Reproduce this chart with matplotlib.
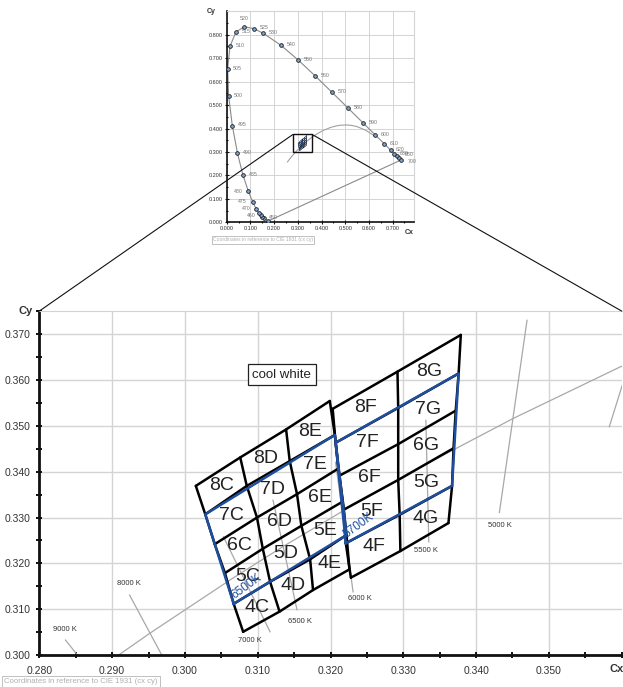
import numpy as np
import matplotlib
matplotlib.use("Agg")
import matplotlib.pyplot as plt
from matplotlib.patches import ConnectionPatch, Rectangle
from matplotlib.ticker import MultipleLocator, FormatStrFormatter

plt.rcParams['font.family'] = ['Liberation Sans', 'DejaVu Sans']

# --- CIE 1931 spectral locus (wavelength in nm, x, y)
wavelengths = [380, 450, 455, 460, 465, 470, 475, 480, 485, 490, 495, 500, 505, 510,
               515, 520, 525, 530, 540, 550, 560, 570, 580, 590, 600, 610, 620, 630,
               640, 650, 700]
locus_x = [0.1741, 0.1566, 0.1510, 0.1440, 0.1355, 0.1241, 0.1096, 0.0913, 0.0687,
           0.0454, 0.0235, 0.0082, 0.0039, 0.0139, 0.0389, 0.0743, 0.1142, 0.1547,
           0.2296, 0.3016, 0.3731, 0.4441, 0.5125, 0.5752, 0.6270, 0.6658, 0.6915,
           0.7079, 0.7190, 0.7260, 0.7347]
locus_y = [0.0050, 0.0177, 0.0227, 0.0297, 0.0399, 0.0578, 0.0868, 0.1327, 0.2007,
           0.2950, 0.4127, 0.5384, 0.6548, 0.7502, 0.8120, 0.8338, 0.8262, 0.8059,
           0.7543, 0.6923, 0.6245, 0.5547, 0.4866, 0.4242, 0.3725, 0.3340, 0.3083,
           0.2920, 0.2809, 0.2740, 0.2653]
left_labels = [460, 470, 475, 480]
top_labels = [520]
hidden_labels = [380, 455, 465, 640]

# --- Planckian locus (20000 K ... 1200 K)
planck_x = [0.2565, 0.2637, 0.2719, 0.2807, 0.2869, 0.2952, 0.3064, 0.3135, 0.3221,
            0.3325, 0.3451, 0.3608, 0.3805, 0.4053, 0.4369, 0.4599, 0.4770, 0.5056,
            0.5267, 0.5487, 0.5857, 0.6251]
planck_y = [0.2577, 0.2674, 0.2779, 0.2884, 0.2956, 0.3048, 0.3166, 0.3237, 0.3318,
            0.3411, 0.3516, 0.3636, 0.3768, 0.3907, 0.4041, 0.4106, 0.4137, 0.4152,
            0.4133, 0.4086, 0.3931, 0.3674]

# --- isotherm segments (x0, y0, x1, y1) and their labels
iso_names = ['9000 K', '8000 K', '7000 K', '6500 K', '6000 K', '5500 K', '5000 K', '']
iso_x0 = [0.2836, 0.2924, 0.3053, 0.3121, 0.3207, 0.3331, 0.3470, 0.3606]
iso_y0 = [0.3033, 0.3131, 0.3258, 0.3338, 0.3420, 0.3512, 0.3730, 0.3615]
iso_x1 = [0.2855, 0.2970, 0.3117, 0.3154, 0.3231, 0.3335, 0.3432, 0.3583]
iso_y1 = [0.2995, 0.2995, 0.3051, 0.3099, 0.3138, 0.3247, 0.3311, 0.3498]
iso_lx = [0.2835, 0.2923, 0.3089, 0.3158, 0.3240, 0.3331, 0.3433, 0]
iso_ly = [0.3057, 0.3157, 0.3033, 0.3073, 0.3123, 0.3229, 0.3282, 0]

# --- bin corners, rows bottom->top (4 low, 4/5, 5/6, 6/7, 7/8, 8 top)
# 6500K group, columns C-left, C/D, D/E, E-right
grpA_cols = ['C', 'D', 'E']
grpA_x = [[0.3080, 0.3130, 0.3176, 0.3226],
          [0.3067, 0.3117, 0.3172, 0.3222],
          [0.3055, 0.3107, 0.3160, 0.3217],
          [0.3041, 0.3099, 0.3154, 0.3211],
          [0.3028, 0.3085, 0.3144, 0.3206],
          [0.3015, 0.3076, 0.3139, 0.3199]]
grpA_y = [[0.3051, 0.3095, 0.3142, 0.3187],
          [0.3112, 0.3160, 0.3209, 0.3262],
          [0.3179, 0.3232, 0.3282, 0.3335],
          [0.3242, 0.3300, 0.3351, 0.3407],
          [0.3307, 0.3369, 0.3423, 0.3480],
          [0.3369, 0.3431, 0.3492, 0.3554]]
# 5700K group, columns F-left, F/G, G-right
grpB_cols = ['F', 'G']
grpB_x = [[0.3228, 0.3296, 0.3362],
          [0.3221, 0.3295, 0.3367],
          [0.3218, 0.3293, 0.3369],
          [0.3212, 0.3293, 0.3372],
          [0.3207, 0.3293, 0.3376],
          [0.3203, 0.3292, 0.3379]]
grpB_y = [[0.3169, 0.3227, 0.3288],
          [0.3244, 0.3306, 0.3369],
          [0.3317, 0.3382, 0.3451],
          [0.3391, 0.3460, 0.3533],
          [0.3463, 0.3539, 0.3614],
          [0.3537, 0.3618, 0.3698]]
row_names = ['4', '5', '6', '7', '8']

BLUE = '#1f4e9c'
GRID = '#d4d4d4'
TXT = '#333333'

fig = plt.figure(figsize=(6.23, 6.87), dpi=100)
ax = fig.add_axes([0.0631, 0.0463, 0.9348, 0.5009])
ins = fig.add_axes([0.3639, 0.6764, 0.3005, 0.3072])


def draw_group(a, gx, gy, cols, lw, labels=True):
    gx = np.array(gx)
    gy = np.array(gy)
    for r in range(gx.shape[0]):
        a.plot(gx[r], gy[r], color='k', lw=lw, zorder=3, solid_capstyle='round')
    for c in range(gx.shape[1]):
        a.plot(gx[:, c], gy[:, c], color='k', lw=lw, zorder=3, solid_capstyle='round')
    # ANSI quadrangle = rows 5..7
    qx = [gx[1, 0], gx[4, 0], gx[4, -1], gx[1, -1], gx[1, 0]]
    qy = [gy[1, 0], gy[4, 0], gy[4, -1], gy[1, -1], gy[1, 0]]
    a.plot(qx, qy, color=BLUE, lw=lw, zorder=4)
    if labels:
        for r in range(gx.shape[0] - 1):
            for c in range(gx.shape[1] - 1):
                cx = (gx[r, c] + gx[r, c + 1] + gx[r + 1, c] + gx[r + 1, c + 1]) / 4
                cy = (gy[r, c] + gy[r, c + 1] + gy[r + 1, c] + gy[r + 1, c + 1]) / 4
                a.text(cx, cy, row_names[r] + cols[c], ha='center', va='center',
                       fontsize=14, color='#222222', zorder=5)
    return gx, gy


# ---------------- main (zoomed) chart ----------------
ax.set_xlim(0.28, 0.36)
ax.set_ylim(0.30, 0.375)
ax.set_xticks(np.arange(0.28, 0.3501, 0.01))
ax.set_yticks(np.arange(0.30, 0.3701, 0.01))
ax.xaxis.set_minor_locator(MultipleLocator(0.005))
ax.yaxis.set_minor_locator(MultipleLocator(0.005))
ax.xaxis.set_major_formatter(FormatStrFormatter('%.3f'))
ax.yaxis.set_major_formatter(FormatStrFormatter('%.3f'))
ax.tick_params(which='both', direction='inout', color='#111', width=1.4,
               labelsize=7.5, labelcolor=TXT)
ax.tick_params(which='major', length=5)
ax.tick_params(which='minor', length=4)
ax.tick_params(axis='x', pad=5)
ax.grid(True, which='major', color=GRID, lw=1.0, zorder=0)
ax.set_axisbelow(True)
for s in ['left', 'bottom']:
    ax.spines[s].set_linewidth(2.0)
    ax.spines[s].set_color('#111')
ax.spines['top'].set_color(GRID)
ax.spines['right'].set_visible(False)
ax.text(-0.012, 1.0, 'Cy', transform=ax.transAxes, ha='right', va='center',
        fontsize=8, fontweight='bold', color=TXT)
ax.text(0.992, -0.04, 'Cx', transform=ax.transAxes, ha='center', va='center',
        fontsize=8, fontweight='bold', color=TXT)

ax.plot(planck_x, planck_y, color='#a8a8a8', lw=0.9, zorder=2)
for i, name in enumerate(iso_names):
    ax.plot([iso_x0[i], iso_x1[i]], [iso_y0[i], iso_y1[i]], color='#a8a8a8', lw=0.9,
            zorder=2)
    if name:
        ax.text(iso_lx[i], iso_ly[i], name, ha='center', va='center', fontsize=5.5,
                color=TXT, zorder=5)

ax_gx, ax_gy = draw_group(ax, grpA_x, grpA_y, grpA_cols, 1.8)
bx_gx, bx_gy = draw_group(ax, grpB_x, grpB_y, grpB_cols, 1.8)

ax.text(ax_gx[1, 0] + 0.0003, ax_gy[1, 0] + 0.0006, '6500K', rotation=36, ha='left',
        va='bottom', fontsize=8.5, color=BLUE, rotation_mode='anchor', zorder=5)
ax.text(bx_gx[1, 0] + 0.0003, bx_gy[1, 0] + 0.0006, '5700K', rotation=36, ha='left',
        va='bottom', fontsize=8.5, color=BLUE, rotation_mode='anchor', zorder=5)

ax.text(0.3133, 0.3611, 'cool white', ha='center', va='center', fontsize=9.5,
        color='#222', zorder=6,
        bbox=dict(boxstyle='square,pad=0.35', facecolor='white', edgecolor='#222', lw=0.9))

# ---------------- overview chart ----------------
ins.set_xlim(0, 0.79)
ins.set_ylim(0, 0.9)
ins.set_xticks(np.arange(0, 0.701, 0.1))
ins.set_yticks(np.arange(0, 0.801, 0.1))
ins.xaxis.set_minor_locator(MultipleLocator(0.05))
ins.yaxis.set_minor_locator(MultipleLocator(0.05))
ins.xaxis.set_major_formatter(FormatStrFormatter('%.3f'))
ins.yaxis.set_major_formatter(FormatStrFormatter('%.3f'))
ins.tick_params(which='both', direction='inout', color='#111', width=0.8,
                labelsize=4, labelcolor=TXT, pad=1.5)
ins.tick_params(which='major', length=3)
ins.tick_params(which='minor', length=2)
ins.grid(True, which='major', color=GRID, lw=0.7, zorder=0)
ins.set_axisbelow(True)
for s in ['left', 'bottom']:
    ins.spines[s].set_linewidth(1.2)
    ins.spines[s].set_color('#111')
for s in ['top', 'right']:
    ins.spines[s].set_color(GRID)
ins.text(-0.06, 1.0, 'Cy', transform=ins.transAxes, ha='right', va='center',
         fontsize=5, fontweight='bold', color=TXT)
ins.text(0.975, -0.048, 'Cx', transform=ins.transAxes, ha='center', va='center',
         fontsize=5, fontweight='bold', color=TXT)

ins.plot(locus_x, locus_y, color='#8a8a8a', lw=0.8, zorder=2)
ins.plot([locus_x[-1], locus_x[0]], [locus_y[-1], locus_y[0]], color='#8a8a8a',
         lw=0.8, zorder=2)
ins.plot(planck_x, planck_y, color='#a0a0a0', lw=0.8, zorder=2)
ins.scatter(locus_x, locus_y, s=7, facecolor='#7ea6d3', edgecolor='#1a1a1a',
            linewidths=0.6, zorder=3)
for w, x, y in zip(wavelengths, locus_x, locus_y):
    if w in hidden_labels:
        continue
    if w in left_labels:
        off, ha, va = (-4, 0), 'right', 'center'
    elif w in top_labels:
        off, ha, va = (0, 4), 'center', 'bottom'
    elif w == 650:
        off, ha, va = (4, 2.5), 'left', 'center'
    elif w == 700:
        off, ha, va = (5, -1), 'left', 'center'
    else:
        off, ha, va = (4, 0.5), 'left', 'center'
    ins.annotate(str(w), (x, y), xytext=off, textcoords='offset points', ha=ha,
                 va=va, fontsize=3.8, color='#777777')

draw_group(ins, grpA_x, grpA_y, grpA_cols, 0.4, labels=False)
draw_group(ins, grpB_x, grpB_y, grpB_cols, 0.4, labels=False)
ins.add_patch(Rectangle((0.28, 0.30), 0.08, 0.075, fill=False, edgecolor='#111',
                        lw=1.0, zorder=5))

# lines from the overview frame to the zoomed axes
for xc in (0.28, 0.36):
    con = ConnectionPatch(xyA=(xc, 0.375), coordsA=ins.transData,
                          xyB=(xc, 0.375), coordsB=ax.transData,
                          color='#111', lw=0.8, zorder=10)
    fig.add_artist(con)

note = 'Coordinates in reference to CIE 1931 (cx cy)'
box = dict(boxstyle='square,pad=0.25', facecolor='white', edgecolor='#b5b5b5', lw=0.6)
fig.text(0.342, 0.651, note, fontsize=3.6, color='#b0b0b0', ha='left', va='center',
         bbox=box)
fig.text(0.007, 0.0075, note, fontsize=5.6, color='#b0b0b0', ha='left', va='center',
         bbox=box)

fig.savefig('out.png', dpi=100)
